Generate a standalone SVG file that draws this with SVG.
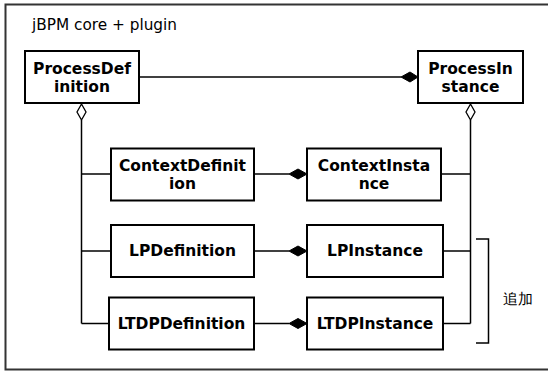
<svg xmlns="http://www.w3.org/2000/svg" width="548" height="371" viewBox="0 0 548 371">
  <style>
    .box { fill: #fff; stroke: #000; stroke-width: 2; }
    .lbl { font-family: "DejaVu Sans", Verdana, sans-serif; font-weight: bold; font-size: 15.5px; text-anchor: middle; fill: #000; }
    .line { fill: none; stroke: #000; stroke-width: 1.5; }
    .comp { fill: #000; stroke: #000; stroke-width: 1; }
    .agg { fill: #fff; stroke: #000; stroke-width: 1.3; }
    .plain { font-family: "DejaVu Sans", Verdana, sans-serif; font-size: 15.3px; fill: #000; }
  </style>
  <rect width="548" height="371" fill="#fff"/>

  <!-- package frame -->
  <rect x="5.5" y="4.5" width="560" height="365" fill="none" stroke="#333" stroke-width="2"/>
  <text class="plain" x="32" y="30">jBPM core + plugin</text>

  <!-- connectors -->
  <g id="connectors">
    <line class="line" x1="139" y1="77" x2="401" y2="77"/>
    <path class="comp" d="M401 77 L410 72 L418 77 L410 82 Z"/>

    <line class="line" x1="81.5" y1="120" x2="81.5" y2="323.5"/>
    <path class="agg" d="M81.5 104 L86 112 L81.5 120 L77 112 Z"/>
    <line class="line" x1="81.5" y1="174" x2="111" y2="174"/>
    <line class="line" x1="81.5" y1="251" x2="111" y2="251"/>
    <line class="line" x1="81.5" y1="323.5" x2="109" y2="323.5"/>

    <line class="line" x1="470.5" y1="120" x2="470.5" y2="323.5"/>
    <path class="agg" d="M470.5 104 L475 112 L470.5 120 L466 112 Z"/>
    <line class="line" x1="441" y1="174" x2="470.5" y2="174"/>
    <line class="line" x1="443" y1="251" x2="470.5" y2="251"/>
    <line class="line" x1="443" y1="323.5" x2="470.5" y2="323.5"/>

    <line class="line" x1="254" y1="174" x2="289" y2="174"/>
    <path class="comp" d="M289 174 L298 169 L307 174 L298 179 Z"/>
    <line class="line" x1="254" y1="251" x2="289" y2="251"/>
    <path class="comp" d="M289 251 L298 246 L307 251 L298 256 Z"/>
    <line class="line" x1="254" y1="323.5" x2="289" y2="323.5"/>
    <path class="comp" d="M289 323.5 L298 318.5 L307 323.5 L298 328.5 Z"/>

    <!-- bracket marking the added classes -->
    <path class="line" d="M476 239 H488.5 V343 H476"/>
  </g>
  <text class="plain" x="503" y="304" font-family="'DejaVu Sans', 'Noto Sans CJK JP', sans-serif" font-size="16.5">追加</text>

  <g id="ProcessDefinition">
    <rect class="box" x="25" y="51" width="114" height="52"/>
    <text class="lbl" x="82" y="74">ProcessDef</text>
    <text class="lbl" x="82" y="92">inition</text>
  </g>
  <g id="ProcessInstance">
    <rect class="box" x="418" y="51" width="105" height="52"/>
    <text class="lbl" x="470.5" y="74">ProcessIn</text>
    <text class="lbl" x="470.5" y="92">stance</text>
  </g>
  <g id="ContextDefinition">
    <rect class="box" x="111" y="148.5" width="143" height="52"/>
    <text class="lbl" x="182.5" y="171">ContextDefinit</text>
    <text class="lbl" x="182.5" y="189">ion</text>
  </g>
  <g id="ContextInstance">
    <rect class="box" x="307" y="148.5" width="134" height="52"/>
    <text class="lbl" x="374" y="171">ContextInsta</text>
    <text class="lbl" x="374" y="189">nce</text>
  </g>
  <g id="LPDefinition">
    <rect class="box" x="111" y="225" width="143" height="52"/>
    <text class="lbl" x="182.5" y="256">LPDefinition</text>
  </g>
  <g id="LPInstance">
    <rect class="box" x="307" y="225" width="136" height="52"/>
    <text class="lbl" x="375" y="256">LPInstance</text>
  </g>
  <g id="LTDPDefinition">
    <rect class="box" x="109" y="297.5" width="145" height="52"/>
    <text class="lbl" x="181.5" y="329">LTDPDefinition</text>
  </g>
  <g id="LTDPInstance">
    <rect class="box" x="307" y="297.5" width="136" height="52"/>
    <text class="lbl" x="375" y="329">LTDPInstance</text>
  </g>
</svg>
